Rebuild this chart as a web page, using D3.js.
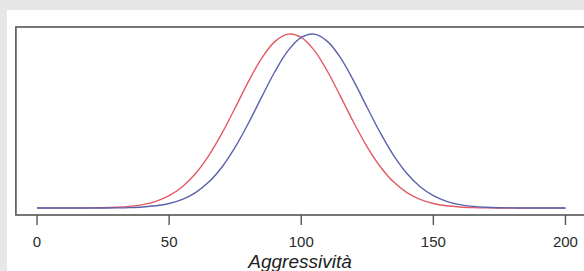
<!DOCTYPE html>
<html>
<head>
    <meta charset="utf-8">
    <script src="https://d3js.org/d3.v7.min.js"></script>
    <style>
        body {
            margin: 0;
            background: #e6e7e6;
            font-family: Arial, "Liberation Sans", sans-serif;
        }
        svg { display: block; }
        .tick-label {
            font-size: 15px;
            fill: #2a2a2a;
        }
        .axis-title {
            font-size: 19px;
            font-style: italic;
            fill: #222;
        }
    </style>
</head>
<body>
    <script>
        // x grid (Aggressività) and relative density
        const xs = d3.range(0, 201, 5);
        const groupA = [0, 0.00003, 0.0001, 0.0003, 0.0007, 0.0018, 0.0043, 0.0096, 0.0198, 0.0387,
            0.071, 0.122, 0.198, 0.301, 0.430, 0.576, 0.726, 0.860, 0.956, 0.999,
            0.980, 0.904, 0.783, 0.637, 0.487, 0.350, 0.236, 0.149, 0.089, 0.050,
            0.026, 0.0129, 0.006, 0.0026, 0.001, 0.0004, 0.0001, 0, 0, 0, 0];
        const groupB = [0, 0, 0.00002, 0.00005, 0.0001, 0.0004, 0.0011, 0.0026, 0.006, 0.0129,
            0.026, 0.050, 0.089, 0.149, 0.236, 0.350, 0.487, 0.637, 0.783, 0.904,
            0.980, 0.999, 0.956, 0.860, 0.726, 0.576, 0.430, 0.301, 0.198, 0.122,
            0.071, 0.0387, 0.0198, 0.0096, 0.0043, 0.0018, 0.0007, 0.0003, 0.0001, 0, 0];
        const xTicks = [0, 50, 100, 150, 200];
        const xTitle = "Aggressività";

        const width = 584, height = 271;

        const svg = d3.select("body").append("svg")
            .attr("width", width)
            .attr("height", height);

        // white panel
        svg.append("rect")
            .attr("x", 7).attr("y", 10)
            .attr("width", width).attr("height", height)
            .attr("fill", "#fff");

        // R-style 4% padding around data range
        const x = d3.scaleLinear().domain([-8, 208]).range([15.9, 586.6]);
        const y = d3.scaleLinear().domain([-0.04, 1.04]).range([215, 27]);

        svg.append("rect")
            .attr("x", x(-8)).attr("y", y(1.04))
            .attr("width", x(208) - x(-8)).attr("height", y(-0.04) - y(1.04))
            .attr("fill", "none")
            .attr("stroke", "#555")
            .attr("stroke-width", 1.6);

        const line = d3.line()
            .x((d, i) => x(xs[i]))
            .y(d => y(d))
            .curve(d3.curveCatmullRom);

        svg.append("path")
            .attr("d", line(groupA))
            .attr("fill", "none")
            .attr("stroke", "#e45a64")
            .attr("stroke-width", 1.4);

        svg.append("path")
            .attr("d", line(groupB))
            .attr("fill", "none")
            .attr("stroke", "#5a62ac")
            .attr("stroke-width", 1.4);

        // x axis
        const axis = svg.append("g");
        axis.selectAll("line")
            .data(xTicks)
            .enter().append("line")
            .attr("x1", d => x(d)).attr("x2", d => x(d))
            .attr("y1", 215).attr("y2", 225)
            .attr("stroke", "#555")
            .attr("stroke-width", 1.4);

        axis.selectAll("text")
            .data(xTicks)
            .enter().append("text")
            .attr("class", "tick-label")
            .attr("x", d => x(d))
            .attr("y", 247)
            .attr("text-anchor", "middle")
            .text(d => d);

        svg.append("text")
            .attr("class", "axis-title")
            .attr("x", 300)
            .attr("y", 268)
            .attr("text-anchor", "middle")
            .text(xTitle);
    </script>
</body>
</html>
